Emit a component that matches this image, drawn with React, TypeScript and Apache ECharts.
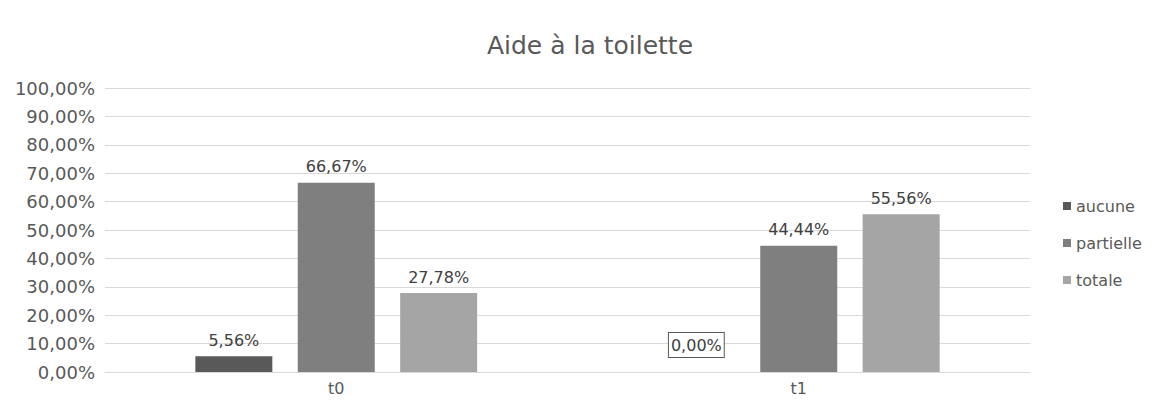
import React, { useEffect, useRef } from "react";
import * as echarts from "echarts";

const categories = ["t0", "t1"];
const seriesNames = ["aucune", "partielle", "totale"];
const aucune = [5.56, 0.0];
const partielle = [66.67, 44.44];
const totale = [27.78, 55.56];
const colors = ["#595959", "#7f7f7f", "#a5a5a5"];

const fmt = (v: number) => v.toFixed(2).replace(".", ",") + "%";

export default function App() {
  const ref = useRef<HTMLDivElement>(null);
  useEffect(() => {
    const chart = echarts.init(ref.current!, null, { renderer: "svg" });
    const values = [aucune, partielle, totale];
    chart.setOption({
      animation: false,
      textStyle: { fontFamily: "DejaVu Sans, sans-serif" },
      title: {
        text: "Aide à la toilette",
        left: 577,
        top: 20,
        textAlign: "center",
        textStyle: { fontSize: 25, fontWeight: "normal", color: "#595959" },
      },
      legend: {
        orient: "vertical",
        left: 1050,
        top: 185,
        itemWidth: 8,
        itemHeight: 8,
        itemGap: 21,
        icon: "rect",
        textStyle: { fontSize: 16, color: "#595959" },
        data: seriesNames,
      },
      grid: { left: 97, right: 119, top: 80, bottom: 29, containLabel: false },
      xAxis: {
        type: "category",
        data: categories,
        axisLine: { lineStyle: { color: "#d9d9d9" } },
        axisTick: { show: false },
        axisLabel: { color: "#595959", fontSize: 16, margin: 8 },
      },
      yAxis: {
        type: "value",
        min: 0,
        max: 100,
        interval: 10,
        axisLine: { show: false },
        axisTick: { show: false },
        splitLine: { lineStyle: { color: "#d9d9d9" } },
        axisLabel: {
          color: "#595959",
          fontSize: 18,
          margin: 10,
          formatter: (v: number) => fmt(v),
        },
      },
      series: seriesNames.map((name, i) => ({
        name,
        type: "bar",
        data: values[i].map((v) => ({
          value: v,
          label:
            v === 0
              ? {
                  show: true,
                  position: "top",
                  formatter: () => fmt(v),
                  borderColor: "#595959",
                  borderWidth: 1,
                  padding: [4, 2],
                  backgroundColor: "#fff",
                  distance: 15,
                }
              : undefined,
        })),
        itemStyle: { color: colors[i] },
        barWidth: 77,
        barGap: "33%",
        label: {
          show: true,
          position: "top",
          distance: 8,
          color: "#404040",
          fontSize: 16,
          formatter: (p: any) => fmt(p.value),
        },
      })),
    });
    return () => chart.dispose();
  }, []);
  return <div ref={ref} style={{ width: 1141, height: 393 }} />;
}
